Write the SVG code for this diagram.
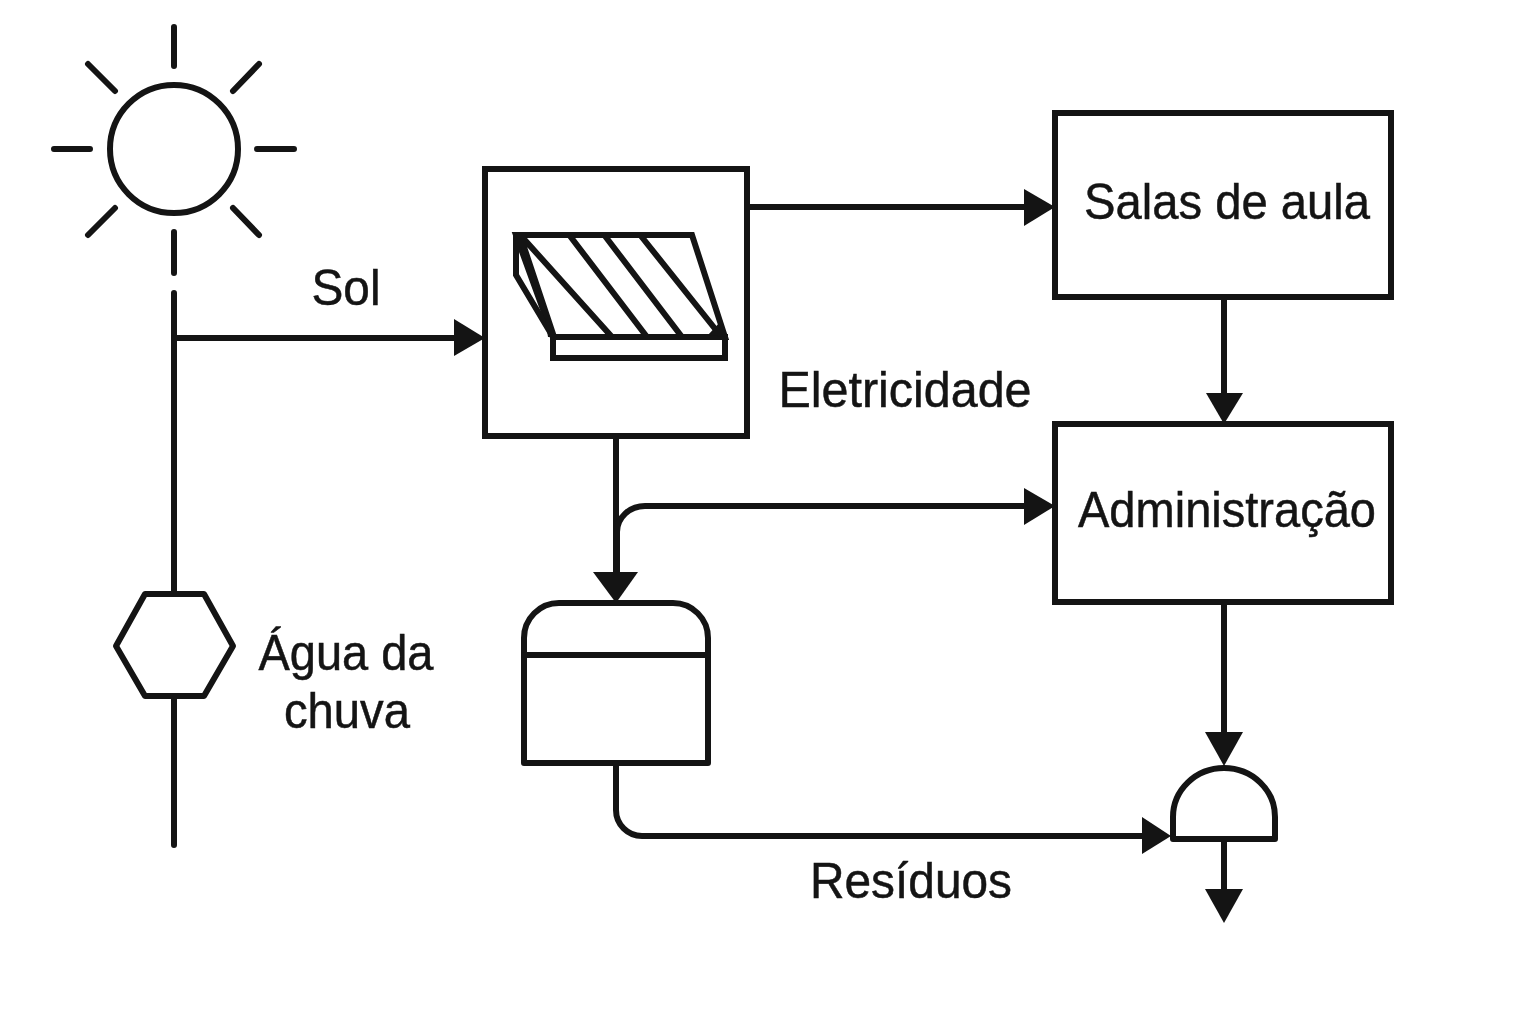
<svg xmlns="http://www.w3.org/2000/svg" width="1536" height="1024" viewBox="0 0 1536 1024">
<style>
.s{fill:none;stroke:#141414;stroke-width:6;stroke-linecap:round;stroke-linejoin:round}
.b{fill:none;stroke:#141414;stroke-width:6;stroke-linecap:butt;stroke-linejoin:round}
.m{fill:none;stroke:#141414;stroke-width:6;stroke-linejoin:miter;stroke-linecap:butt}
.a{fill:#141414;stroke:none}
text{font-family:"Liberation Sans",Arial,sans-serif;fill:#141414;stroke:#141414;stroke-width:.5;font-size:50px;text-anchor:middle}
</style>
<rect width="1536" height="1024" fill="#fff"/>
<g id="connectors">
<path class="s" d="M174 293V594M174 696V845"/>
<path class="s" d="M174 338H456"/>
<path class="a" d="M454 319L485 338L454 356Z"/>
<path class="s" d="M749 207H1026"/>
<path class="a" d="M1024 189L1055 207L1024 226Z"/>
<path class="s" d="M1224 297V395"/>
<path class="a" d="M1206 393H1243L1224 424Z"/>
<path class="b" d="M616 436V574"/>
<path class="b" d="M617 574V532A28 26 0 0 1 645 506H1026"/>
<path class="a" d="M1024 488L1055 506L1024 525Z"/>
<path class="a" d="M593 572H638L616 603Z"/>
<path class="s" d="M1224 603V734"/>
<path class="a" d="M1205 732H1243L1224 766Z"/>
<path class="s" d="M616 764V810A26 26 0 0 0 642 836H1144"/>
<path class="a" d="M1142 817L1171 836L1142 854Z"/>
<path class="s" d="M1224 840V892"/>
<path class="a" d="M1205 889H1243L1224 923Z"/>
</g>
<g id="sun">
<circle class="s" cx="174" cy="149" r="64"/>
<path class="s" d="M174 27V66M174 232V273M54 149H90M257 149H294M88 64L115 91M259 64L233 91M88 235L115 208M259 235L233 208"/>
</g>
<g id="solar-panel">
<rect class="m" x="485" y="169" width="262" height="267"/>
<path class="m" d="M516 235H692L725 337H553Z"/>
<path class="m" d="M516 235V275L553 337"/>
<path class="m" d="M553 337V358H725V337H553"/>
<path class="m" d="M523 238L612 337M570 236L647 337M605 236L682 337M641 236L720 335M521 238L554 337"/>
<path class="a" d="M514 233H528L522 248L516 246ZM545 318L556 337H548ZM708 335L722 320L727 337Z"/>
</g>
<g id="salas">
<rect class="m" x="1055" y="113" width="336" height="184"/>
<text x="1227" y="219" textLength="286" lengthAdjust="spacingAndGlyphs">Salas de aula</text>
</g>
<g id="administracao">
<rect class="m" x="1055" y="424" width="336" height="178"/>
<text x="1227" y="527" textLength="298" lengthAdjust="spacingAndGlyphs">Administração</text>
</g>
<g id="tank">
<path class="s" d="M524 763V638A35 35 0 0 1 559 603H673A35 35 0 0 1 708 638V763Z"/>
<path class="s" d="M524 655H708"/>
</g>
<g id="junction">
<path class="s" d="M1173 839V817A51 49 0 0 1 1275 817V839Z"/>
</g>
<g id="hexagon">
<path class="s" d="M145 594H204L233 646L204 696H145L116 646Z"/>
</g>
<g id="labels">
<text x="346" y="305" textLength="69" lengthAdjust="spacingAndGlyphs">Sol</text>
<text x="905" y="407" textLength="253" lengthAdjust="spacingAndGlyphs">Eletricidade</text>
<text x="346" y="670" textLength="175" lengthAdjust="spacingAndGlyphs">Água da</text>
<text x="347" y="728" textLength="126" lengthAdjust="spacingAndGlyphs">chuva</text>
<text x="911" y="898" textLength="202" lengthAdjust="spacingAndGlyphs">Resíduos</text>
</g>
</svg>
